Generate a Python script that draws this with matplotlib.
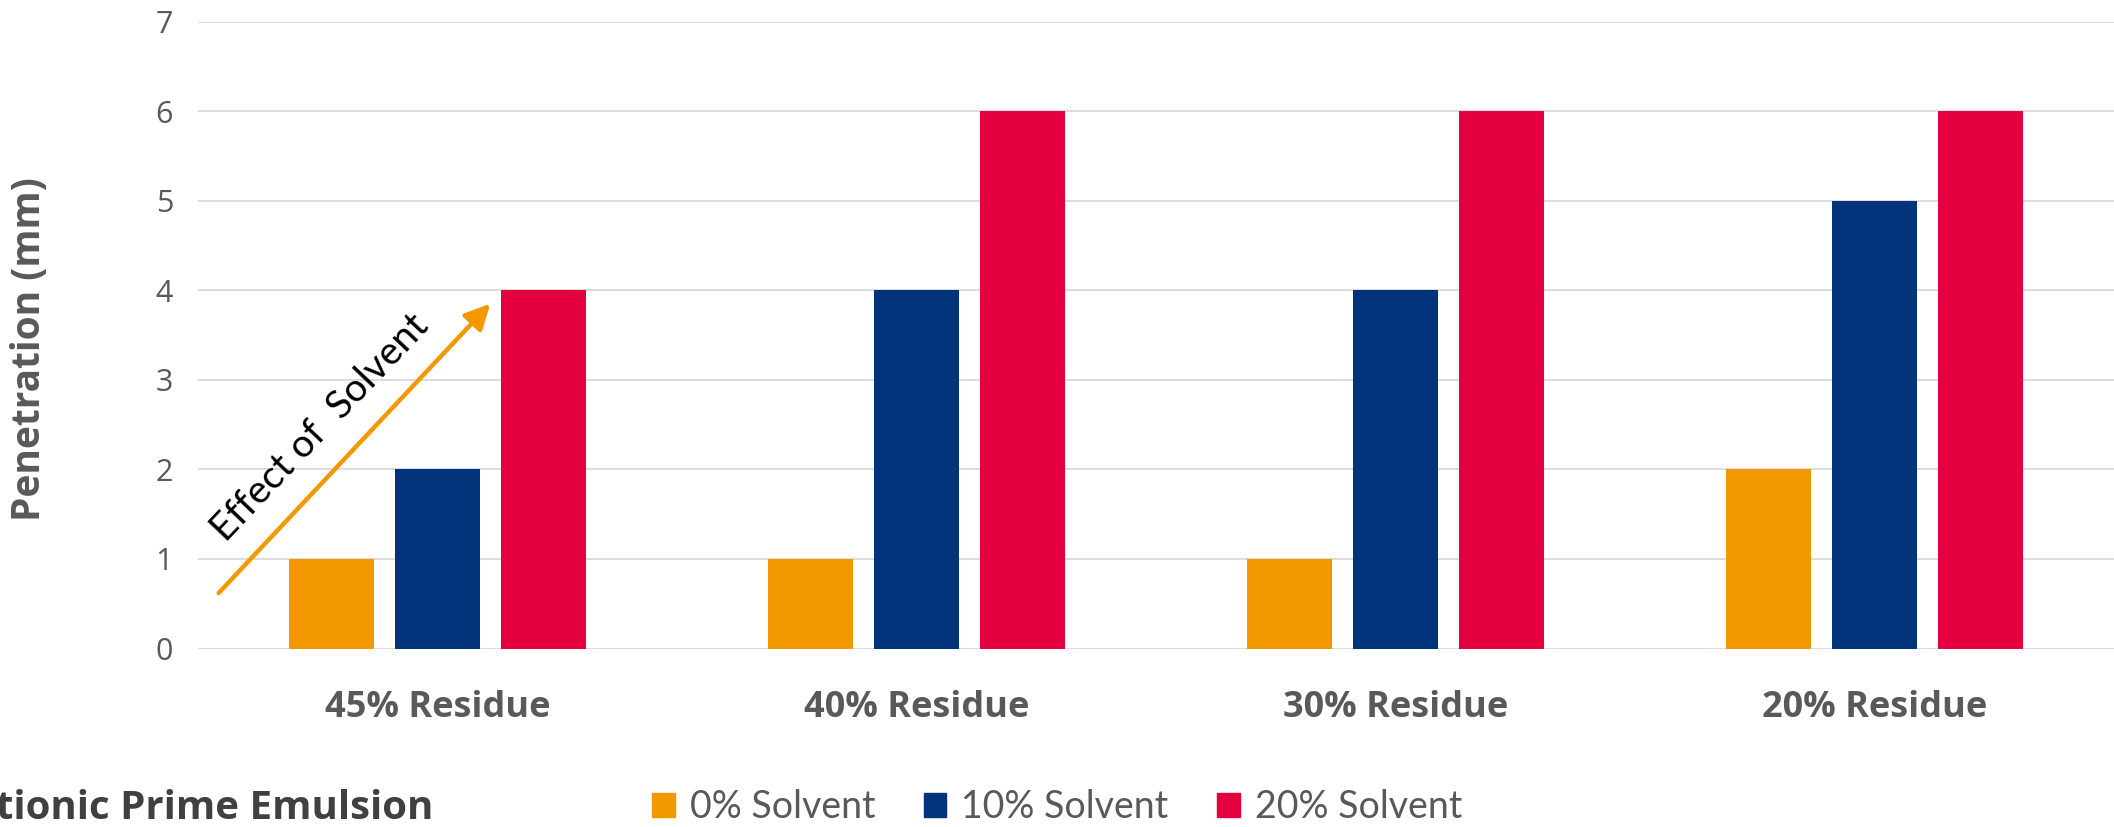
import numpy as np
import matplotlib.pyplot as plt
from matplotlib.patches import Patch

categories = ['45% Residue', '40% Residue', '30% Residue', '20% Residue']
series = ['0% Solvent', '10% Solvent', '20% Solvent']
solvent_0 = [1, 1, 1, 2]
solvent_10 = [2, 4, 4, 5]
solvent_20 = [4, 6, 6, 6]
colors = ['#F29900', '#00337A', '#E4003E']
grey = '#595959'

fig = plt.figure(figsize=(21.14, 8.27), dpi=100)
ax = fig.add_axes([0.0937, 0.2158, 0.9063, 0.7581])

x = np.arange(len(categories))
width = 0.1775
step = 0.222
for i, vals in enumerate([solvent_0, solvent_10, solvent_20]):
    ax.bar(x + (i - 1) * step, vals, width, color=colors[i], label=series[i], zorder=3)

ax.set_xlim(-0.5, 3.5)
ax.set_ylim(0, 7)
ax.set_yticks(range(8))
ax.yaxis.grid(True, color='#D9D9D9', linewidth=1.3, zorder=0)
for s in ax.spines.values():
    s.set_visible(False)
ax.tick_params(axis='y', length=0, pad=18, labelsize=22, labelcolor=grey)
ax.tick_params(axis='x', length=0, pad=30)
ax.set_xticks(x)
ax.set_xticklabels(categories, fontsize=26, fontweight='bold', color=grey, family='Open Sans')
for lab in ax.get_yticklabels():
    lab.set_family('Open Sans')
ax.set_ylabel('Penetration (mm)', fontsize=28, fontweight='bold', color=grey,
              family='Open Sans')
ax.yaxis.set_label_coords(-0.078, 0.478)

# arrow annotation
ax.annotate('', xy=(0.11, 3.85), xytext=(-0.457, 0.62),
            arrowprops=dict(arrowstyle='-|>', color='#F29900', lw=3.2,
                            mutation_scale=38, shrinkA=0, shrinkB=0), zorder=4)
ax.text(-0.245, 2.47, 'Effect of  Solvent', rotation=46.5, fontsize=28, family='Lato',
        ha='center', va='center', rotation_mode='anchor', color='black')

handles = [Patch(color=c) for c in colors]
leg = fig.legend(handles, series, loc='center', bbox_to_anchor=(0.5, 0.024), ncol=3,
                 frameon=False, prop={'family': 'Lato', 'size': 27},
                 handlelength=0.6, handleheight=0.6, handletextpad=0.4, columnspacing=1.3)
for t in leg.get_texts():
    t.set_color(grey)

# footer title, partly cut off at the left edge as in the original
fig.text(433 / 2114, 0.022, 'Cationic Prime Emulsion', ha='right', va='center',
         fontsize=29, fontweight='bold', color='#404040', family='Open Sans')

fig.savefig('out.png', dpi=100)
